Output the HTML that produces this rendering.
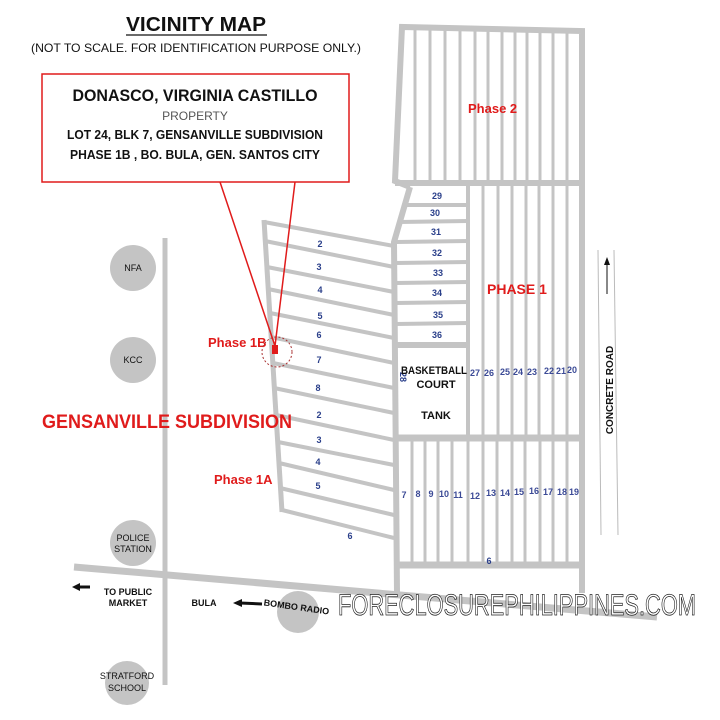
<!DOCTYPE html>
<html><head><meta charset="utf-8"><style>
html,body{margin:0;padding:0;background:#fff;}
svg{display:block;font-family:"Liberation Sans",sans-serif;}
.n{fill:#2a3f8a;font-size:9px;font-weight:bold;text-anchor:middle;}
.b{fill:#111;font-size:9px;text-anchor:middle;}
</style></head><body>
<svg width="720" height="720" viewBox="0 0 720 720" xmlns="http://www.w3.org/2000/svg">
<rect width="720" height="720" fill="#fff"/>
<g stroke="#c4c4c4" fill="none">
<line x1="165" y1="238" x2="165" y2="685" stroke-width="5"/>
<line x1="74" y1="567" x2="657" y2="617" stroke-width="7"/>
<!-- Phase 2 -->
<polyline points="410,187 395,181 402,27 582,31 582,593" stroke-width="6"/>
<line x1="395" y1="183" x2="582" y2="183" stroke-width="6"/>
<g stroke-width="3">
<line x1="415" y1="29" x2="415" y2="183"/><line x1="430" y1="29" x2="430" y2="183"/>
<line x1="445" y1="29" x2="445" y2="183"/><line x1="460" y1="29" x2="460" y2="183"/>
<line x1="475" y1="29" x2="475" y2="183"/><line x1="488" y1="29" x2="488" y2="183"/>
<line x1="502" y1="29" x2="502" y2="183"/><line x1="515" y1="29" x2="515" y2="183"/>
<line x1="527" y1="29" x2="527" y2="183"/><line x1="540" y1="29" x2="540" y2="183"/>
<line x1="553" y1="29" x2="553" y2="183"/><line x1="567" y1="29" x2="567" y2="183"/>
</g>
<!-- Phase 1 -->
<polyline points="410,187 394,242 397,593" stroke-width="6"/>
<g stroke-width="4">
<line x1="404" y1="205" x2="468" y2="205"/><line x1="399" y1="222" x2="468" y2="221"/>
<line x1="396" y1="242" x2="468" y2="241"/><line x1="396" y1="263" x2="468" y2="262"/>
<line x1="396" y1="283" x2="468" y2="282"/><line x1="396" y1="303" x2="468" y2="302"/>
<line x1="396" y1="324" x2="468" y2="323"/>
</g>
<line x1="396" y1="345" x2="468" y2="345" stroke-width="6"/>
<line x1="468" y1="183" x2="468" y2="438" stroke-width="4"/>
<g stroke-width="3">
<line x1="483" y1="183" x2="483" y2="438"/><line x1="498" y1="183" x2="498" y2="438"/>
<line x1="512" y1="183" x2="512" y2="438"/><line x1="526" y1="183" x2="526" y2="438"/>
<line x1="539" y1="183" x2="539" y2="438"/><line x1="553" y1="183" x2="553" y2="438"/>
<line x1="567" y1="183" x2="567" y2="438"/>
</g>
<line x1="396" y1="438" x2="582" y2="438" stroke-width="7"/>
<g stroke-width="3">
<line x1="412" y1="438" x2="412" y2="563"/><line x1="425" y1="438" x2="425" y2="563"/>
<line x1="438" y1="438" x2="438" y2="563"/><line x1="452" y1="438" x2="452" y2="563"/>
<line x1="468" y1="438" x2="468" y2="563"/><line x1="483" y1="438" x2="483" y2="563"/>
<line x1="497" y1="438" x2="497" y2="563"/><line x1="512" y1="438" x2="512" y2="563"/>
<line x1="525" y1="438" x2="525" y2="563"/><line x1="540" y1="438" x2="540" y2="563"/>
<line x1="553" y1="438" x2="553" y2="563"/><line x1="567" y1="438" x2="567" y2="563"/>
</g>
<line x1="396" y1="565" x2="582" y2="565" stroke-width="7"/>
<!-- Phase 1A/1B -->
<line x1="264" y1="220" x2="282" y2="512" stroke-width="5"/>
<g stroke-width="4">
<line x1="264" y1="222" x2="394" y2="246"/><line x1="265" y1="241" x2="394" y2="267"/>
<line x1="267" y1="267" x2="394" y2="292"/><line x1="268" y1="289" x2="394" y2="315"/>
<line x1="270" y1="313" x2="394" y2="338"/><line x1="271" y1="337" x2="394" y2="363"/>
<line x1="273" y1="363" x2="394" y2="388"/><line x1="274" y1="388" x2="394" y2="413"/>
<line x1="276" y1="415" x2="394" y2="440"/><line x1="278" y1="442" x2="394" y2="465"/>
<line x1="279" y1="463" x2="394" y2="490"/><line x1="280" y1="488" x2="394" y2="515"/>
<line x1="282" y1="510" x2="394" y2="538"/>
</g>
</g>
<g fill="#c4c4c4">
<circle cx="133" cy="268" r="23"/><circle cx="133" cy="360" r="23"/>
<circle cx="133" cy="543" r="23"/><circle cx="298" cy="612" r="21"/>
<circle cx="127" cy="683" r="22"/>
</g>
<g>
<text x="133" y="271" class="b">NFA</text><text x="133" y="363" class="b">KCC</text>
<text x="133" y="541" class="b">POLICE</text><text x="133" y="552" class="b">STATION</text>
<text x="127" y="679" class="b">STRATFORD</text><text x="127" y="691" class="b">SCHOOL</text>
<text x="128" y="595" class="b" font-weight="bold" font-size="8">TO PUBLIC</text>
<text x="128" y="606" class="b" font-weight="bold" font-size="8">MARKET</text>
<text x="204" y="606" class="b" font-weight="bold" font-size="8">BULA</text>
<text x="296" y="610" class="b" font-weight="bold" font-size="8" transform="rotate(8 296 610)">BOMBO RADIO</text>
</g>
<g stroke="#111" stroke-width="3"><line x1="78" y1="587" x2="90" y2="587"/><line x1="240" y1="603" x2="262" y2="604"/></g>
<polygon points="72,587 80,583 80,591" fill="#111"/><polygon points="233,603 242,599 242,607" fill="#111"/>
<g stroke="#bbb" stroke-width="1"><line x1="598" y1="250" x2="601" y2="535"/><line x1="614" y1="250" x2="618" y2="535"/></g>
<line x1="607" y1="262" x2="607" y2="294" stroke="#111" stroke-width="1"/>
<polygon points="607,257 604,265 610,265" fill="#111"/>
<text x="0" y="0" transform="translate(613 390) rotate(-90)" text-anchor="middle" font-size="10" font-weight="bold" fill="#111">CONCRETE ROAD</text>
<g class="n">
<text x="437" y="199">29</text><text x="435" y="216">30</text><text x="436" y="235">31</text>
<text x="437" y="256">32</text><text x="438" y="276">33</text><text x="437" y="296">34</text>
<text x="438" y="318">35</text><text x="437" y="338">36</text>
<text x="320" y="247">2</text><text x="319" y="270">3</text><text x="320" y="293">4</text>
<text x="320" y="319">5</text><text x="319" y="338">6</text><text x="319" y="363">7</text>
<text x="318" y="391">8</text><text x="319" y="418">2</text><text x="319" y="443">3</text>
<text x="318" y="465">4</text><text x="318" y="489">5</text><text x="350" y="539">6</text>
<text x="489" y="564">6</text>
<text x="400" y="377" transform="rotate(90 400 377)">28</text>
</g>
<g class="n" style="fill:#3b4a96">
<text x="475" y="376">27</text><text x="489" y="376">26</text><text x="505" y="375">25</text>
<text x="518" y="375">24</text><text x="532" y="375">23</text><text x="549" y="374">22</text>
<text x="561" y="374">21</text><text x="572" y="373">20</text>
<text x="404" y="498">7</text><text x="418" y="497">8</text><text x="431" y="497">9</text>
<text x="444" y="497">10</text><text x="458" y="498">11</text><text x="475" y="499">12</text>
<text x="491" y="496">13</text><text x="505" y="496">14</text><text x="519" y="495">15</text>
<text x="534" y="494">16</text><text x="548" y="495">17</text><text x="562" y="495">18</text><text x="574" y="495">19</text>
</g>
<g text-anchor="middle" font-weight="bold" font-size="11" fill="#111">
<text x="434" y="374" textLength="66" lengthAdjust="spacingAndGlyphs">BASKETBALL</text><text x="436" y="388">COURT</text><text x="436" y="419">TANK</text>
</g>
<g fill="#e01b1b" font-weight="bold">
<text x="468" y="113" font-size="13">Phase 2</text>
<text x="487" y="294" font-size="14">PHASE 1</text>
<text x="208" y="347" font-size="13">Phase 1B</text>
<text x="214" y="484" font-size="13">Phase 1A</text>
<text x="42" y="428" font-size="19" textLength="250" lengthAdjust="spacingAndGlyphs">GENSANVILLE SUBDIVISION</text>
</g>
<circle cx="277" cy="352" r="15" fill="none" stroke="#a33" stroke-width="1" stroke-dasharray="2,2"/>
<rect x="272" y="345" width="6" height="9" fill="#e01b1b"/>
<polyline points="220,182 275,346 295,182" fill="none" stroke="#e01b1b" stroke-width="1.5"/>
<text x="196" y="31" text-anchor="middle" font-size="20" font-weight="bold" fill="#111" textLength="140" lengthAdjust="spacingAndGlyphs">VICINITY MAP</text>
<line x1="126" y1="35" x2="267" y2="35" stroke="#111" stroke-width="1.2"/>
<text x="196" y="52" text-anchor="middle" font-size="12" fill="#111" textLength="330" lengthAdjust="spacingAndGlyphs">(NOT TO SCALE. FOR IDENTIFICATION PURPOSE ONLY.)</text>
<rect x="42" y="74" width="307" height="108" fill="#fff" stroke="#e01b1b" stroke-width="1.5"/>
<g text-anchor="middle" fill="#111">
<text x="195" y="101" font-size="17" font-weight="bold" textLength="245" lengthAdjust="spacingAndGlyphs">DONASCO, VIRGINIA CASTILLO</text>
<text x="195" y="120" font-size="12" fill="#555">PROPERTY</text>
<text x="195" y="139" font-size="13" font-weight="bold" textLength="256" lengthAdjust="spacingAndGlyphs">LOT 24, BLK 7, GENSANVILLE SUBDIVISION</text>
<text x="195" y="159" font-size="13" font-weight="bold" textLength="250" lengthAdjust="spacingAndGlyphs">PHASE 1B , BO. BULA,  GEN. SANTOS CITY</text>
</g>
<text x="338" y="615" font-size="30" fill="#fff" stroke="#222" stroke-width="0.8" textLength="358" lengthAdjust="spacingAndGlyphs">FORECLOSUREPHILIPPINES.COM</text>
</svg>
</body></html>
